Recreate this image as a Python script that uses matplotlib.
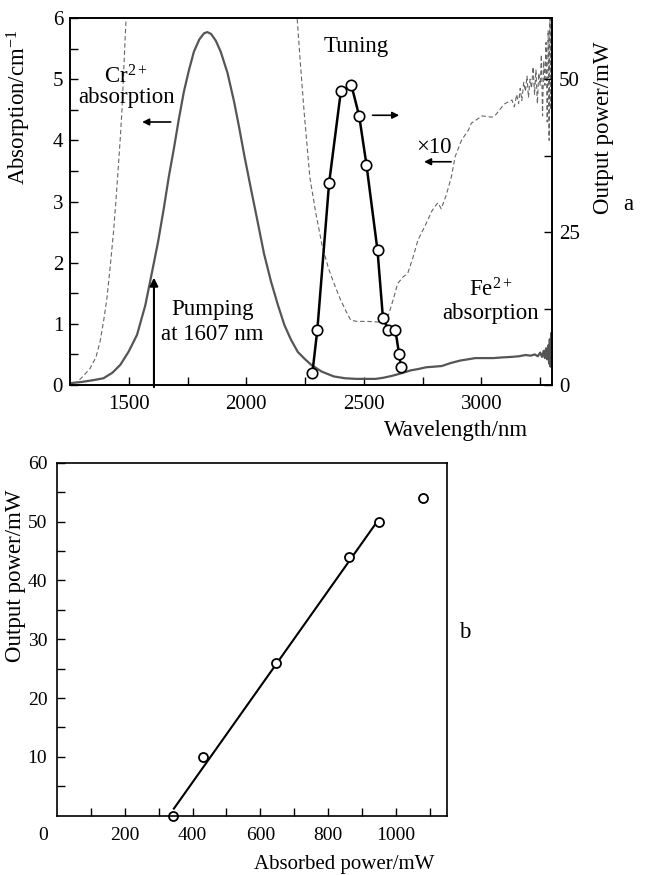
import matplotlib
matplotlib.use('Agg')
import matplotlib.pyplot as plt
import numpy as np

plt.rcParams['font.family'] = 'Liberation Serif'
plt.rcParams['mathtext.fontset'] = 'custom'
plt.rcParams['mathtext.rm'] = 'Liberation Serif'
plt.rcParams['mathtext.it'] = 'Liberation Serif:italic'

# --- panel a: Cr2+ absorption (solid), x10 Fe2+ absorption (dashed), tuning curve
wl_cr = [1250, 1300, 1350, 1392, 1430, 1464, 1500, 1535, 1570, 1599, 1625, 1649, 1670, 1692,
         1713, 1734, 1756, 1777, 1800, 1820, 1834, 1850, 1870, 1891, 1920, 1948, 1970, 1991,
         2020, 2048, 2075, 2105, 2135, 2162, 2190, 2219, 2250, 2276, 2320, 2372, 2420, 2470,
         2516, 2550, 2585, 2620, 2658, 2700, 2730, 2765, 2800, 2831, 2870, 2910, 2943, 2974,
         3000, 3050, 3085, 3130, 3160, 3187, 3210, 3227, 3240, 3250, 3258, 3265, 3270, 3275,
         3280, 3285, 3288, 3291, 3294, 3297, 3300]
abs_cr = [0.03, 0.05, 0.08, 0.11, 0.2, 0.33, 0.55, 0.82, 1.3, 1.85, 2.35, 2.89, 3.4, 3.87,
          4.35, 4.79, 5.15, 5.45, 5.65, 5.75, 5.77, 5.74, 5.63, 5.45, 5.1, 4.63, 4.2, 3.76,
          3.2, 2.67, 2.15, 1.69, 1.3, 0.98, 0.74, 0.54, 0.42, 0.33, 0.22, 0.14, 0.11, 0.1,
          0.1, 0.1, 0.12, 0.15, 0.19, 0.24, 0.26, 0.29, 0.3, 0.31, 0.36, 0.4, 0.42, 0.44,
          0.44, 0.44, 0.45, 0.46, 0.47, 0.49, 0.48, 0.5, 0.47, 0.53, 0.46, 0.56, 0.44, 0.6,
          0.42, 0.65, 0.35, 0.75, 0.3, 0.85, 0.5]

wl_fe = [1265, 1279, 1300, 1335, 1360, 1378, 1395, 1407, 1420, 1435, 1446, 1456, 1464, 1471,
         1478, 1485, 1490, np.nan,
         2212, 2216, 2231, 2247, 2270, 2296, 2323, 2350, 2372, 2400, 2425, 2444, 2470, 2516,
         2560, 2587, 2605, 2625, 2644, 2665, 2687, 2710, 2730, 2760, 2790, 2801, 2815, 2829,
         2850, 2872, 2888, 2915, 2945, 2957, 2988, 3000, 3045, 3057, 3088, 3100, 3130, 3140,
         3150, 3158, 3165, 3172, 3180, 3187, 3194, 3200, 3207, 3213, 3220, 3226, 3232, 3238,
         3244, 3250, 3255, 3260, 3265, 3270, 3275, 3280, 3284, 3288, 3291, 3294, 3297, 3300]
abs_fe = [0.02, 0.05, 0.12, 0.27, 0.45, 0.71, 1.1, 1.42, 1.9, 2.5, 3.05, 3.6, 4.05, 4.5,
          5.1, 5.72, 6.1, np.nan,
          6.1, 6.0, 5.2, 4.41, 3.4, 2.8, 2.27, 1.9, 1.67, 1.4, 1.2, 1.06, 1.04, 1.04,
          1.03, 1.04, 1.15, 1.4, 1.66, 1.76, 1.83, 2.1, 2.37, 2.6, 2.85, 2.91, 2.98, 2.88,
          3.1, 3.4, 3.73, 4.0, 4.17, 4.28, 4.36, 4.4, 4.38, 4.4, 4.55, 4.6, 4.66, 4.55,
          4.75, 4.6, 4.85, 4.65, 4.95, 4.8, 5.05, 4.7, 5.0, 4.85, 5.2, 4.75, 5.15, 4.6,
          5.1, 4.9, 5.4, 4.4, 5.3, 4.9, 5.6, 4.3, 5.8, 4.0, 6.0, 4.5, 6.1, 5.0]

wl_tune = [2281, 2302, 2352, 2402, 2447, 2480, 2511, 2558, 2581, 2604, 2634, 2650, 2658]
p_tune = [2, 9, 33, 48, 49, 44, 36, 22, 11, 9, 9, 5, 3]

# --- panel b: output vs absorbed power
p_abs = [343, 430, 646, 862, 949, 1080]
p_out = [0, 10, 26, 44, 50, 54]
fit_x = [345, 940]
fit_y = [1.2, 49.6]

TS = 15   # tick labels
LS = 16.5 # labels and notes

fig = plt.figure(figsize=(6.46, 8.75), dpi=100)
ax = fig.add_axes([0.1084, 0.56, 0.746, 0.4194])
ax.plot(wl_cr, abs_cr, color='#555555', lw=1.6)
ax.plot(wl_fe, abs_fe, color='#666666', lw=0.8, ls=(0, (4, 2.5)))
ax.set_xlim(1250, 3300)
ax.set_ylim(0, 6)
ax.set_xticks([1500, 2000, 2500, 3000])
ax.set_xticks([1750, 2250, 2750, 3250], minor=True)
ax.set_yticks(range(7))
ax.set_yticks(np.arange(0.5, 6, 1), minor=True)
ax.tick_params(which='both', direction='in', length=6, width=1, labelsize=TS)
ax.tick_params(axis='x', pad=7)
ax.tick_params(axis='y', pad=5)
ax.set_ylabel('Absorption/cm$^{-1}$', fontsize=LS)
ax.yaxis.set_label_coords(-0.077, 0.757)
ax.set_xlabel('Wavelength/nm', fontsize=LS)
ax.xaxis.set_label_coords(0.80, -0.095)

ax2 = ax.twinx()
ax2.plot(wl_tune, p_tune, color='black', lw=1.8, marker='o', ms=7.5,
         mfc='white', mec='black', mew=1.2)
ax2.set_ylim(0, 60)
ax2.set_yticks([0, 25, 50])
ax2.set_yticks([12.5, 37.5], minor=True)
ax2.tick_params(which='both', direction='in', length=6, width=1, labelsize=TS, pad=5)
ax2.set_ylabel('Output power/mW', fontsize=LS)
ax2.yaxis.set_label_coords(1.085, 0.70)
for a in (ax, ax2):
    for s in a.spines.values():
        s.set_linewidth(1.2)

ax.text(1488, 5.03, 'Cr$^{2+}$', fontsize=LS, ha='center', va='center')
ax.text(1492, 4.70, 'absorption', fontsize=LS, ha='center', va='center')
ax.annotate('', xy=(1545, 4.3), xytext=(1690, 4.3),
            arrowprops=dict(arrowstyle='-|>', color='black', lw=1.2, mutation_scale=10))
ax.text(1857, 1.23, 'Pumping', fontsize=LS, ha='center', va='center')
ax.text(1857, 0.82, 'at 1607 nm', fontsize=LS, ha='center', va='center')
ax.annotate('', xy=(1607, 1.8), xytext=(1607, -0.08),
            arrowprops=dict(arrowstyle='-|>', color='black', lw=1.5, mutation_scale=12),
            annotation_clip=False)
ax.text(2468, 5.54, 'Tuning', fontsize=LS, ha='center', va='center')
ax.annotate('', xy=(2662, 4.41), xytext=(2525, 4.41),
            arrowprops=dict(arrowstyle='-|>', color='black', lw=1.2, mutation_scale=10))
ax.text(2800, 3.89, '×10', fontsize=LS, ha='center', va='center')
ax.annotate('', xy=(2744, 3.65), xytext=(2883, 3.65),
            arrowprops=dict(arrowstyle='-|>', color='black', lw=1.2, mutation_scale=10))
ax.text(3038, 1.55, 'Fe$^{2+}$', fontsize=LS, ha='center', va='center')
ax.text(3038, 1.17, 'absorption', fontsize=LS, ha='center', va='center')
fig.text(628 / 646, 1 - 205 / 875, 'a', fontsize=LS, ha='center', va='center')

# --- panel b
bx = fig.add_axes([0.0882, 0.0678, 0.6033, 0.4034])
bx.plot(fit_x, fit_y, color='black', lw=1.5)
bx.plot(p_abs, p_out, ls='none', marker='o', ms=6.5, mfc='white', mec='black',
        mew=1.3, clip_on=False)
bx.set_xlim(0, 1150)
bx.set_ylim(0, 60)
bx.set_xticks([200, 400, 600, 800, 1000])
bx.set_xticks([100, 300, 500, 700, 900, 1100], minor=True)
bx.set_yticks([10, 20, 30, 40, 50, 60])
bx.set_yticks([5, 15, 25, 35, 45, 55], minor=True)
bx.tick_params(which='both', direction='in', length=6, width=1, labelsize=14)
bx.tick_params(axis='x', pad=8)
bx.tick_params(axis='y', pad=7)
for s in bx.spines.values():
    s.set_linewidth(1.2)
bx.set_xlabel('Absorbed power/mW', fontsize=15)
bx.xaxis.set_label_coords(0.736, -0.11)
bx.set_ylabel('Output power/mW', fontsize=LS)
bx.yaxis.set_label_coords(-0.08, 0.68)
fig.text(43 / 646, 1 - 835 / 875, '0', fontsize=14, ha='center', va='center')
fig.text(465 / 646, 1 - 632 / 875, 'b', fontsize=LS, ha='center', va='center')

fig.savefig('out.png', dpi=100)
